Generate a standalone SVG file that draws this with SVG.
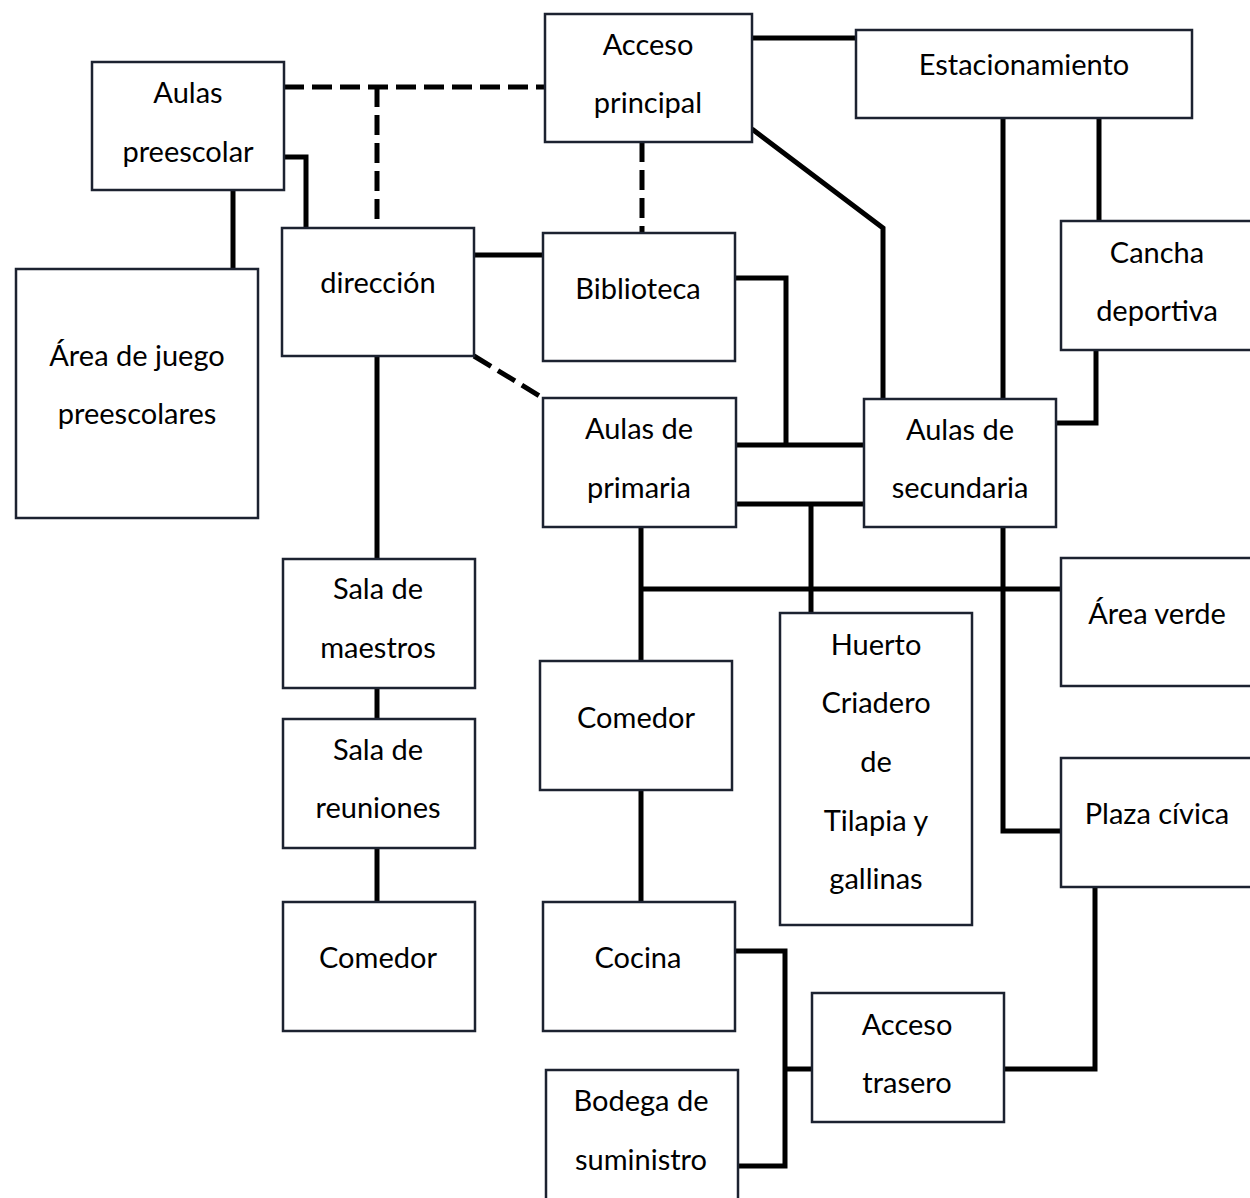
<svg xmlns="http://www.w3.org/2000/svg" width="1250" height="1198" viewBox="0 0 1250 1198">
<style>
.box{fill:#fff;stroke:#1c2230;stroke-width:2.5}
.t{font-family:Lato,"Open Sans","Liberation Sans",sans-serif;font-size:29px;fill:#000;text-anchor:middle}
.c{fill:none;stroke:#000;stroke-width:5}
.d{fill:none;stroke:#000;stroke-width:5;stroke-dasharray:20 8}
</style>
<rect width="1250" height="1198" fill="#fff"/>
<g id="connectors">
<path class="c" d="M233,190 V269"/>
<path class="c" d="M284,157 H306 V228"/>
<path class="d" d="M284,87 H545"/>
<path class="d" d="M377,87 V228"/>
<path class="d" d="M642,142 V233"/>
<path class="c" d="M752,38 H856"/>
<path class="c" d="M752,129 L883,228 V399"/>
<path class="c" d="M1003,118 V399"/>
<path class="c" d="M1099,118 V221"/>
<path class="c" d="M1096,350 V423 H1056"/>
<path class="c" d="M474,255 H543"/>
<path class="c" d="M735,278 H786 V445"/>
<path class="c" d="M736,445 H864"/>
<path class="c" d="M736,504 H864"/>
<path class="c" d="M811,504 V613"/>
<path class="c" d="M377,356 V559"/>
<path class="d" d="M474,356 L543,398"/>
<path class="c" d="M377,688 V719"/>
<path class="c" d="M377,848 V902"/>
<path class="c" d="M641,527 V661"/>
<path class="c" d="M641,589 H1061"/>
<path class="c" d="M1003,527 V831 H1061"/>
<path class="c" d="M641,790 V902"/>
<path class="c" d="M735,951 H785 V1166 H738"/>
<path class="c" d="M785,1069 H812"/>
<path class="c" d="M1004,1069 H1095 V887"/>
</g>
<g id="aulas-preescolar"><rect class="box" x="92" y="62" width="192" height="128"/><text class="t" x="188" y="103">Aulas</text><text class="t" x="188" y="162">preescolar</text></g>
<g id="area-juego"><rect class="box" x="16" y="269" width="242" height="249"/><text class="t" x="137" y="366">Área de juego</text><text class="t" x="137" y="424">preescolares</text></g>
<g id="direccion"><rect class="box" x="282" y="228" width="192" height="128"/><text class="t" x="378" y="293">dirección</text></g>
<g id="acceso-principal"><rect class="box" x="545" y="14" width="207" height="128"/><text class="t" x="648" y="55">Acceso</text><text class="t" x="648" y="113">principal</text></g>
<g id="estacionamiento"><rect class="box" x="856" y="30" width="336" height="88"/><text class="t" x="1024" y="75">Estacionamiento</text></g>
<g id="biblioteca"><rect class="box" x="543" y="233" width="192" height="128"/><text class="t" x="638" y="299">Biblioteca</text></g>
<g id="cancha"><rect class="box" x="1061" y="221" width="192" height="129"/><text class="t" x="1157" y="263">Cancha</text><text class="t" x="1157" y="321">deportiva</text></g>
<g id="aulas-primaria"><rect class="box" x="543" y="398" width="193" height="129"/><text class="t" x="639" y="439">Aulas de</text><text class="t" x="639" y="498">primaria</text></g>
<g id="aulas-secundaria"><rect class="box" x="864" y="399" width="192" height="128"/><text class="t" x="960" y="440">Aulas de</text><text class="t" x="960" y="498">secundaria</text></g>
<g id="sala-maestros"><rect class="box" x="283" y="559" width="192" height="129"/><text class="t" x="378" y="599">Sala de</text><text class="t" x="378" y="658">maestros</text></g>
<g id="sala-reuniones"><rect class="box" x="283" y="719" width="192" height="129"/><text class="t" x="378" y="760">Sala de</text><text class="t" x="378" y="818">reuniones</text></g>
<g id="comedor-1"><rect class="box" x="283" y="902" width="192" height="129"/><text class="t" x="378" y="968">Comedor</text></g>
<g id="comedor-2"><rect class="box" x="540" y="661" width="192" height="129"/><text class="t" x="636" y="728">Comedor</text></g>
<g id="huerto"><rect class="box" x="780" y="613" width="192" height="312"/><text class="t" x="876" y="655">Huerto</text><text class="t" x="876" y="713">Criadero</text><text class="t" x="876" y="772">de</text><text class="t" x="876" y="831">Tilapia y</text><text class="t" x="876" y="889">gallinas</text></g>
<g id="area-verde"><rect class="box" x="1061" y="558" width="192" height="128"/><text class="t" x="1157" y="624">Área verde</text></g>
<g id="plaza-civica"><rect class="box" x="1061" y="758" width="192" height="129"/><text class="t" x="1157" y="824">Plaza cívica</text></g>
<g id="cocina"><rect class="box" x="543" y="902" width="192" height="129"/><text class="t" x="638" y="968">Cocina</text></g>
<g id="bodega"><rect class="box" x="546" y="1070" width="192" height="140"/><text class="t" x="641" y="1111">Bodega de</text><text class="t" x="641" y="1170">suministro</text></g>
<g id="acceso-trasero"><rect class="box" x="812" y="993" width="192" height="129"/><text class="t" x="907" y="1035">Acceso</text><text class="t" x="907" y="1093">trasero</text></g>
</svg>
